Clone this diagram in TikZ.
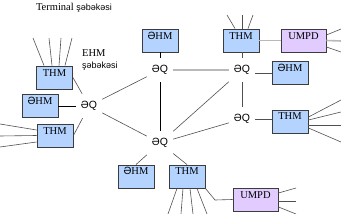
\documentclass[tikz,border=0pt]{standalone}
\usepackage{fontspec}
\setmainfont{Liberation Serif}
\newfontfamily\sa{Liberation Sans}
\definecolor{thmfill}{RGB}{180,212,255}
\definecolor{umpdfill}{RGB}{226,204,255}
\definecolor{boxline}{RGB}{60,60,60}
\definecolor{thincol}{RGB}{80,80,80}
\definecolor{thickcol}{RGB}{185,185,185}
\begin{document}
\begin{tikzpicture}[x=1pt,y=-1pt,
  box/.style={draw=boxline, line width=0.9pt, fill=thmfill, minimum width=36pt,
    inner sep=1.5pt, text height=8.5pt, text depth=11.5pt,
    font=\fontsize{10.5}{12}\selectfont},
  ubox/.style={box, fill=umpdfill, minimum width=45pt},
  qnode/.style={inner sep=0pt, minimum width=26pt, minimum height=24pt,
    font=\sa\fontsize{10.5}{12}\selectfont},
  thin/.style={draw=thincol, line width=0.6pt},
  blk/.style={draw=black, line width=0.8pt},
  thickl/.style={draw=thickcol, line width=1.6pt},
  lbl/.style={inner sep=0pt, font=\fontsize{10.5}{12}\selectfont}]
\useasboundingbox (0,0) rectangle (341,214);

% labels
\node[lbl] (term) at (74,8) {Terminal {\sa\fontsize{9}{11}\selectfont şəbəkəsi}};
\node[lbl, anchor=west] (ehm) at (82,53) {EHM};
\node[lbl, anchor=west] (seb) at (82,66) {\sa\fontsize{9}{11}\selectfont şəbəkəsi};

% boxes
\node[box] (THM1) at (54.5,77.5) {THM};
\node[box] (EHM1) at (40,106) {{\sa Ə}HM};
\node[box] (THM2) at (55,135.5) {THM};
\node[box] (EHM2) at (160,40.5) {{\sa Ə}HM};
\node[box] (THM3) at (241,40.5) {THM};
\node[ubox] (UMPD1) at (303.5,40.5) {UMPD};
\node[box] (EHM3) at (290,73) {{\sa Ə}HM};
\node[box] (THM4) at (290,121.5) {THM};
\node[box] (EHM4) at (136,176.5) {{\sa Ə}HM};
\node[box] (THM5) at (187,176.5) {THM};
\node[ubox] (UMPD2) at (255.5,199.5) {UMPD};

% switching nodes
\node[qnode] (Q1) at (89,106) {ƏQ};
\node[qnode] (Q2) at (160,70) {ƏQ};
\node[qnode] (Q3) at (242,70) {ƏQ};
\node[qnode] (Q4) at (242,119) {ƏQ};
\node[qnode] (Q5) at (160,143) {ƏQ};

% connectors between nodes
\draw[thin] (THM1.east) -- (Q1);
\draw[blk] (EHM1.east) -- (Q1.west);
\draw[thin] (THM2.east) -- (Q1);
\draw[thin] (Q1) -- (Q2);
\draw[thin] (Q1) -- (Q5);
\draw[blk] (EHM2.south) -- (Q2.north);
\draw[blk] (Q2.south) -- (Q5.north);
\draw[thickl] (Q2.east) -- (Q3.west);
\draw[thin] (Q5) -- (Q3);
\draw[thin] (Q5) -- (Q4);
\draw[thin] (THM3.south -| Q3.north) -- (Q3.north);
\draw[thin] (Q3.south) -- (Q4.north);
\draw[thin] (Q3.east |- EHM3.west) -- (EHM3.west);
\draw[thin] (Q4.east) -- (Q4.east -| THM4.west);
\draw[thickl] (THM3.east) -- (UMPD1.west);
\draw[thin] (Q5) -- (EHM4.north);
\draw[thin] (Q5) -- (THM5.north);
\coordinate (bend) at (215,200);
\draw[thin] (THM5.south east) -- (bend) -- (UMPD2.west);

% free-ended terminal lines
\coordinate (a1) at (33,38); \coordinate (a2) at (49,38);
\coordinate (a3) at (61,38); \coordinate (a4) at (72,38);
\draw[thin] (a1) -- ([xshift=-10.5pt]THM1.north);
\draw[thin] (a2) -- ([xshift=-2.5pt]THM1.north);
\draw[thin] (a3) -- ([xshift=4.5pt]THM1.north);
\draw[thin] (a4) -- ([xshift=10.5pt]THM1.north);

\coordinate (b1) at (0,124); \coordinate (b2) at (0,136); \coordinate (b3) at (0,147);
\draw[thin] (b1) -- ([yshift=5.5pt]THM2.west);
\draw[thin] (b2) -- (THM2.west);
\draw[thin] (b3) -- ([yshift=-6.5pt]THM2.west);

\coordinate (c1) at (227,15); \coordinate (c2) at (242,15); \coordinate (c3) at (253,15);
\draw[thin] (c1) -- ([xshift=-6pt]THM3.north);
\draw[thin] (c2) -- ([xshift=1pt]THM3.north);
\draw[thin] (c3) -- ([xshift=7pt]THM3.north);

\coordinate (d1) at (341,29); \coordinate (d2) at (341,41); \coordinate (d3) at (341,52);
\draw[thin] ([yshift=5.5pt]UMPD1.east) -- (d1);
\draw[thickl] (UMPD1.east) -- (d2);
\draw[thin] ([yshift=-6.5pt]UMPD1.east) -- (d3);

\coordinate (e1) at (341,100); \coordinate (e2) at (341,112);
\coordinate (e3) at (341,125); \coordinate (e4) at (341,142);
\draw[thin] ([yshift=4.5pt]THM4.east) -- (e1);
\draw[thin] ([yshift=1.5pt]THM4.east) -- (e2);
\draw[thin] ([yshift=-3.5pt]THM4.east) -- (e3);
\draw[thin] ([yshift=-6.5pt]THM4.east) -- (e4);

\coordinate (f1) at (168,214); \coordinate (f2) at (181,214);
\coordinate (f3) at (193,214); \coordinate (f4) at (207,214);
\draw[thin] ([xshift=-10pt]THM5.south) -- (f1);
\draw[thin] ([xshift=-4pt]THM5.south) -- (f2);
\draw[thin] ([xshift=3pt]THM5.south) -- (f3);
\draw[thin] ([xshift=10pt]THM5.south) -- (f4);

\coordinate (g1) at (296,188); \coordinate (g2) at (296,201); \coordinate (g3) at (296,214);
\draw[thin] ([yshift=6.5pt]UMPD2.east) -- (g1);
\draw[thin] ([yshift=-1.5pt]UMPD2.east) -- (g2);
\draw[thin] ([yshift=-7.5pt]UMPD2.east) -- (g3);
\end{tikzpicture}
\end{document}
